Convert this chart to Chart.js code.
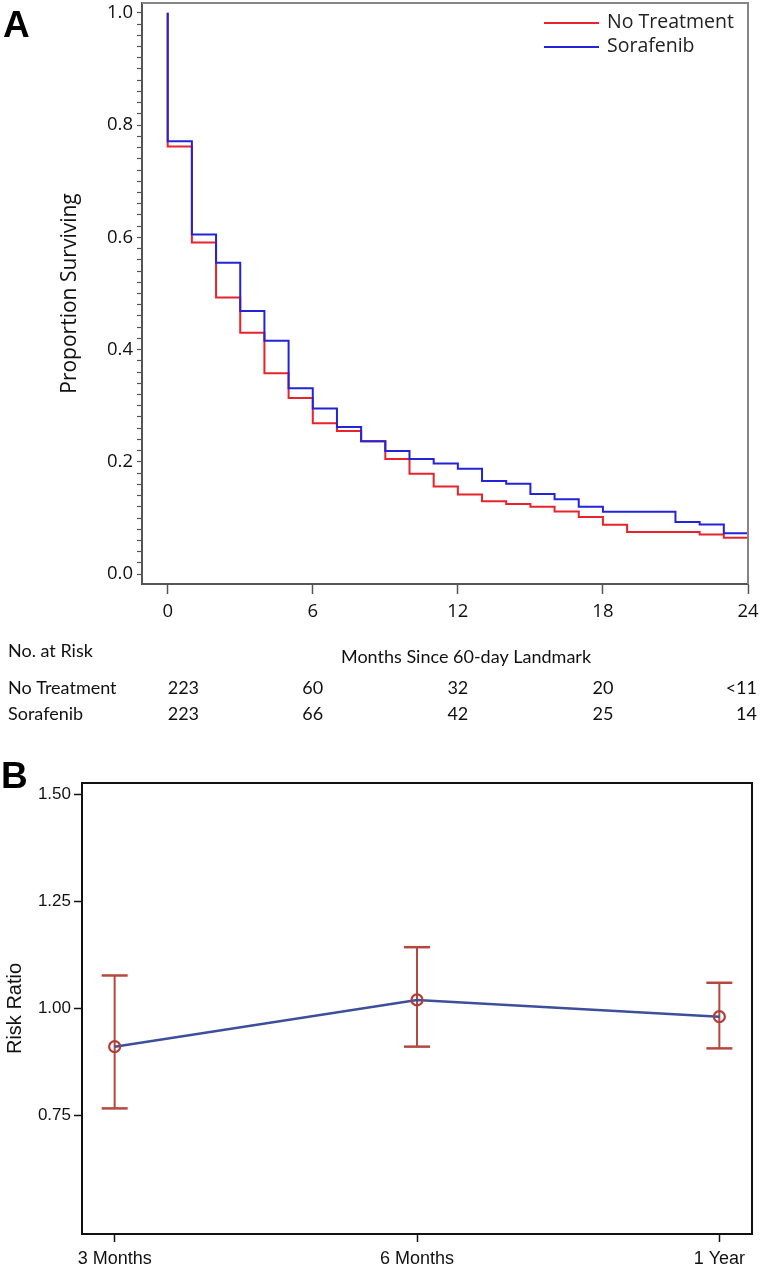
<!DOCTYPE html>
<html>
<head>
<meta charset="utf-8">
<script src="https://cdn.jsdelivr.net/npm/chart.js@4.4.1/dist/chart.umd.min.js"></script>
<style>
  html, body { margin: 0; padding: 0; background: #fff; }
  #wrap { position: relative; width: 761px; height: 1269px; background: #fff; }
  #kmChart { position: absolute; left: 0; top: 0; }
  #rrChart { position: absolute; left: 0; top: 730px; }
</style>
</head>
<body>
<div id="wrap">
  <canvas id="kmChart" width="761" height="730"></canvas>
  <canvas id="rrChart" width="761" height="539"></canvas>
</div>
<script>
// ---- Panel A : survival curves ----
const months = [0, 0, 1, 2, 3, 4, 5, 6, 7, 8, 9, 10, 11, 12, 13, 14, 15, 16, 17, 18, 19, 20, 21, 22, 23, 24];
const noTreatment = [1.0, 0.762, 0.591, 0.493, 0.430, 0.358, 0.314, 0.269, 0.255, 0.237, 0.205, 0.179, 0.156, 0.142,
  0.130, 0.125, 0.120, 0.1115, 0.102, 0.088, 0.075, 0.075, 0.075, 0.0707, 0.065, 0.046];
const sorafenib = [1.0, 0.771, 0.605, 0.555, 0.469, 0.416, 0.331, 0.295, 0.262, 0.237, 0.2195, 0.205, 0.197, 0.188,
  0.166, 0.161, 0.143, 0.1335, 0.120, 0.111, 0.111, 0.111, 0.093, 0.0885, 0.073, 0.071];
const monthTicks = [0, 6, 12, 18, 24];
const atRiskNoTreatment = ["223", "60", "32", "20", "<11"];
const atRiskSorafenib = ["223", "66", "42", "25", "14"];

// ---- Panel B : risk ratio ----
const periods = ["3 Months", "6 Months", "1 Year"];
const riskRatio = [0.911, 1.020, 0.981];
const ciLower = [0.767, 0.911, 0.907];
const ciUpper = [1.077, 1.143, 1.060];
const rrTicks = [0.75, 1.00, 1.25, 1.50];

const RED = "#e8232b";
const BLUE = "#2323d8";

// 축 여백 없애기 (라벨 때문에 차트 영역이 줄어들지 않도록)
function noPad(s) {
  s.paddingTop = 0;
  s.paddingBottom = 0;
  s.paddingLeft = 0;
  s.paddingRight = 0;
}

// 프레임 / 범례 / 위험표
const kmExtras = {
  id: "kmExtras",
  afterDraw(chart) {
    const { ctx, chartArea: a, scales } = chart;
    ctx.save();
    // top + right frame
    ctx.strokeStyle = "#858585";
    ctx.lineWidth = 2;
    ctx.beginPath();
    ctx.moveTo(a.left, a.top);
    ctx.lineTo(a.right, a.top);
    ctx.lineTo(a.right, a.bottom);
    ctx.stroke();

    // legend
    const items = [["No Treatment", RED], ["Sorafenib", BLUE]];
    ctx.font = "19.5px 'Open Sans'";
    ctx.textBaseline = "middle";
    ctx.textAlign = "left";
    items.forEach(([name, col], i) => {
      const y = 23 + i * 24;
      ctx.strokeStyle = col;
      ctx.lineWidth = 2;
      ctx.beginPath();
      ctx.moveTo(544, y);
      ctx.lineTo(599, y);
      ctx.stroke();
      ctx.fillStyle = "#222";
      ctx.fillText(name, 607, y - 1);
    });

    // panel letter
    ctx.fillStyle = "#000";
    ctx.font = "bold 37px 'Liberation Sans'";
    ctx.textBaseline = "alphabetic";
    ctx.fillText("A", 3, 37);

    // number at risk table
    ctx.font = "18px Lato";
    ctx.fillStyle = "#111";
    ctx.textBaseline = "middle";
    ctx.fillText("No. at Risk", 8, 651);
    ctx.fillText("No Treatment", 8, 688);
    ctx.fillText("Sorafenib", 8, 714);
    ctx.textAlign = "center";
    ctx.fillText("Months Since 60-day Landmark", 466, 657);
    monthTicks.forEach((m, i) => {
      let x = scales.x.getPixelForValue(m);
      if (i === 0) { ctx.textAlign = "left"; }
      else if (i === monthTicks.length - 1) { ctx.textAlign = "right"; x += 9; }
      else { ctx.textAlign = "center"; }
      ctx.fillText(atRiskNoTreatment[i], x, 688);
      ctx.fillText(atRiskSorafenib[i], x, 714);
    });
    ctx.restore();
  }
};

const kmConfig = {
  type: "line",
  data: {
    datasets: [
      {
        label: "No Treatment",
        data: months.map((m, i) => ({ x: m, y: noTreatment[i] })),
        borderColor: RED,
        borderWidth: 2,
        stepped: "before",
        pointRadius: 0,
        fill: false,
        order: 2,
      },
      {
        label: "Sorafenib",
        data: months.map((m, i) => ({ x: m, y: sorafenib[i] })),
        borderColor: BLUE,
        borderWidth: 2,
        stepped: "before",
        pointRadius: 0,
        fill: false,
        order: 1,
      },
    ],
  },
  options: {
    responsive: false,
    animation: false,
    layout: { autoPadding: false, padding: { left: 0, top: 3, right: 13, bottom: 0 } },
    scales: {
      x: {
        type: "linear",
        min: -1.063,
        max: 24,
        afterFit: (s) => { s.height = 146; noPad(s); },
        afterBuildTicks: (s) => { s.ticks = monthTicks.map((v) => ({ value: v })); },
        border: { color: "#555", width: 2 },
        grid: { drawOnChartArea: false, tickLength: 10, color: "#555", tickWidth: 1.5 },
        ticks: { color: "#111", font: { family: "Open Sans", size: 18.5 }, padding: 7, maxRotation: 0 },
      },
      y: {
        min: -0.0175,
        max: 1.0175,
        afterFit: (s) => { s.width = 142; noPad(s); },
        border: { color: "#555", width: 2 },
        grid: { drawOnChartArea: false, tickLength: 5, color: "#555", tickWidth: 1.2 },
        ticks: {
          stepSize: 0.02,
          includeBounds: false,
          autoSkip: false,
          padding: 4,
          color: "#111",
          font: { family: "Open Sans", size: 18.5 },
          callback: (v) => (Math.abs(v * 5 - Math.round(v * 5)) < 1e-6 ? v.toFixed(1) : ""),
        },
        title: {
          display: true,
          text: "Proportion Surviving",
          color: "#111",
          font: { family: "Open Sans", size: 21 },
          padding: { top: 57, bottom: 0 },
        },
      },
    },
    plugins: { legend: { display: false }, tooltip: { enabled: false } },
  },
  plugins: [kmExtras],
};

new Chart(document.getElementById("kmChart").getContext("2d"), kmConfig);

// ---- Panel B ----
const ciPoints = [];
periods.forEach((p, i) => {
  ciPoints.push({ x: i, y: ciLower[i] }, { x: i, y: ciUpper[i] }, { x: i, y: null });
});

const rrExtras = {
  id: "rrExtras",
  afterDraw(chart) {
    const { ctx, chartArea: a } = chart;
    ctx.save();
    ctx.strokeStyle = "#111";
    ctx.lineWidth = 2;
    ctx.strokeRect(a.left, a.top, a.right - a.left, a.bottom - a.top);
    ctx.fillStyle = "#000";
    ctx.font = "bold 37px 'Liberation Sans'";
    ctx.fillText("B", 1, 58);
    ctx.restore();
  }
};

const rrConfig = {
  type: "line",
  data: {
    datasets: [
      {
        label: "Risk Ratio",
        data: periods.map((p, i) => ({ x: i, y: riskRatio[i] })),
        borderColor: "#3d4f9c",
        borderWidth: 2.5,
        pointStyle: "circle",
        pointRadius: 5.5,
        pointBorderWidth: 2.2,
        pointBorderColor: "#b13c36",
        pointBackgroundColor: "rgba(0,0,0,0)",
        order: 1,
      },
      {
        label: "95% CI",
        data: ciPoints,
        borderColor: "#b5473f",
        borderWidth: 2,
        spanGaps: false,
        pointStyle: "line",
        pointRadius: 13,
        pointBorderWidth: 2.5,
        pointBorderColor: "#b5473f",
        order: 2,
      },
    ],
  },
  options: {
    responsive: false,
    animation: false,
    layout: { autoPadding: false, padding: { left: 0, top: 53, right: 9, bottom: 0 } },
    scales: {
      x: {
        type: "linear",
        min: -0.108,
        max: 2.108,
        afterFit: (s) => { s.height = 35; noPad(s); },
        afterBuildTicks: (s) => { s.ticks = periods.map((p, i) => ({ value: i })); },
        border: { color: "#111", width: 2 },
        grid: { drawOnChartArea: false, tickLength: 8, color: "#111", tickWidth: 1.5 },
        ticks: {
          color: "#111",
          font: { family: "Liberation Sans", size: 18 },
          padding: 6,
          maxRotation: 0,
          callback: (v) => periods[v],
        },
      },
      y: {
        min: 0.474,
        max: 1.526,
        afterFit: (s) => { s.width = 82; noPad(s); },
        afterBuildTicks: (s) => { s.ticks = rrTicks.map((v) => ({ value: v })); },
        border: { color: "#111", width: 2 },
        grid: { drawOnChartArea: false, tickLength: 8, color: "#111", tickWidth: 1.5 },
        ticks: {
          color: "#111",
          font: { family: "Liberation Sans", size: 17 },
          padding: 3,
          callback: (v) => v.toFixed(2),
        },
        title: {
          display: true,
          text: "Risk Ratio",
          color: "#111",
          font: { family: "Liberation Sans", size: 20 },
          padding: { top: 3, bottom: 0 },
        },
      },
    },
    plugins: { legend: { display: false }, tooltip: { enabled: false } },
  },
  plugins: [rrExtras],
};

new Chart(document.getElementById("rrChart").getContext("2d"), rrConfig);
</script>
</body>
</html>
